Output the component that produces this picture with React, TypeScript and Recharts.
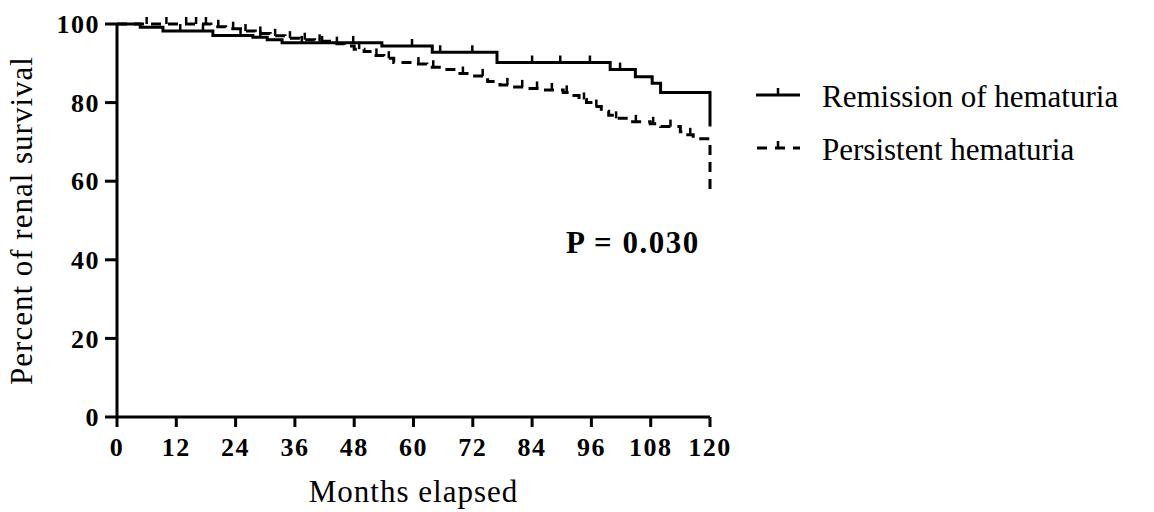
import { LineChart, Line, XAxis, YAxis, Label } from "recharts";

// Remission of hematuria (solid)
const remTimes = [0, 4.7, 9.3, 19.4, 27.5, 30.4, 33.4, 53.6, 63.8, 76.9, 99.8, 104.9, 108.3, 110, 120];
const remSurv = [100, 99.2, 98.2, 97.1, 96.6, 96, 95.2, 94.4, 92.8, 90.2, 88.4, 86.6, 84.9, 82.6, 73.9];
const remCensored = [12.8, 17.4, 25, 29, 37.4, 41.5, 47.8, 59.7, 65.4, 71.9, 84, 89.7, 95.7, 101.8];

// Persistent hematuria (dashed)
const perTimes = [
  0, 19, 22, 25, 28, 31, 34, 37, 40, 43, 46, 48, 50, 52, 54, 56, 60, 62.7, 66, 69.4, 72, 75,
  77.5, 80, 83, 86.3, 90.3, 92, 93.5, 95, 96.5, 98, 99.5, 100.8, 104, 107.9, 110, 114, 115.5,
  116.6, 120,
];
const perSurv = [
  100, 99.3, 98.8, 98.2, 97.6, 97, 96.4, 96, 95.6, 95, 94.4, 93.6, 93, 92, 91.3, 90.2, 89.8, 89,
  88.4, 87.4, 86.8, 85.4, 84.5, 84, 83.6, 83.2, 82.6, 81.8, 80.8, 80, 79, 77.8, 76.8, 76, 75.1,
  74.6, 73.9, 72.6, 71.8, 70.8, 57,
];
const perCensored = [
  6, 10, 14, 16, 18, 20.5, 23.5, 26, 29, 32, 35, 38, 41, 44.5, 49, 52.5, 55, 61, 64, 70, 74, 79,
  82, 85, 88, 91, 94.5, 97, 101, 105, 108.5, 112, 116,
];

const xTicks = [0, 12, 24, 36, 48, 60, 72, 84, 96, 108, 120];
const yTicks = [0, 20, 40, 60, 80, 100];

const serif = "'Liberation Serif', 'Times New Roman', serif";

type Pt = { t: number; s: number; c: boolean };

// step data + censor marks (a censored point sits on the current step value)
function buildSeries(times: number[], surv: number[], censored: number[]): Pt[] {
  const pts: Pt[] = times.map((t, i) => ({ t, s: surv[i], c: false }));
  censored.forEach((ct) => {
    let s = surv[0];
    times.forEach((t, i) => {
      if (t <= ct) s = surv[i];
    });
    pts.push({ t: ct, s, c: true });
  });
  return pts.sort((a, b) => a.t - b.t);
}

const remData = buildSeries(remTimes, remSurv, remCensored);
const perData = buildSeries(perTimes, perSurv, perCensored);

const CensorTick = (props: any) => {
  const { cx, cy, payload, index } = props;
  if (!payload || !payload.c) return <g key={index} />;
  return (
    <line
      key={index}
      x1={cx}
      x2={cx}
      y1={cy - 7}
      y2={cy}
      stroke="#000"
      strokeWidth={2.5}
      strokeDasharray="none"
    />
  );
};

function ChartLegend() {
  return (
    <svg width={400} height={110} style={{ position: "absolute", left: 752, top: 80 }}>
      <g>
        <line x1={4} x2={48} y1={15} y2={15} stroke="#000" strokeWidth={3} />
        <line x1={26} x2={26} y1={8} y2={15} stroke="#000" strokeWidth={2.5} />
        <text x={70} y={16} dominantBaseline="central" fontFamily={serif} fontSize={31} fill="#000">
          Remission of hematuria
        </text>
      </g>
      <g>
        <line x1={5} x2={48} y1={68} y2={68} stroke="#000" strokeWidth={3} strokeDasharray="10 8" />
        <line x1={26} x2={26} y1={61} y2={68} stroke="#000" strokeWidth={2.5} />
        <text x={70} y={69} dominantBaseline="central" fontFamily={serif} fontSize={31} fill="#000">
          Persistent hematuria
        </text>
      </g>
    </svg>
  );
}

export default function App() {
  const tickStyle = {
    fontFamily: serif,
    fontWeight: 700,
    fontSize: 26,
    fill: "#000",
    letterSpacing: 1.5,
  };
  return (
    <div style={{ position: "absolute", left: 0, top: 0, width: 1154, height: 512, background: "#fff" }}>
      <LineChart
        width={1154}
        height={512}
        margin={{ top: 24, right: 444, bottom: 7, left: 0 }}
      >
        <XAxis
          type="number"
          dataKey="t"
          domain={[0, 120]}
          ticks={xTicks}
          interval={0}
          allowDuplicatedCategory={false}
          height={88}
          tickSize={10}
          tickMargin={11}
          axisLine={{ stroke: "#000", strokeWidth: 3 }}
          tickLine={{ stroke: "#000", strokeWidth: 3 }}
          tick={tickStyle}
        >
          <Label
            value="Months elapsed"
            position="insideBottom"
            offset={3}
            style={{ fontFamily: serif, fontSize: 31, fill: "#000", letterSpacing: 1 }}
          />
        </XAxis>
        <YAxis
          type="number"
          domain={[0, 100]}
          ticks={yTicks}
          interval={0}
          width={117}
          tickSize={12}
          tickMargin={5}
          axisLine={{ stroke: "#000", strokeWidth: 3 }}
          tickLine={{ stroke: "#000", strokeWidth: 3 }}
          tick={tickStyle}
        >
          <Label
            content={({ viewBox }: any) => {
              const cx = 21;
              const cy = viewBox.y + viewBox.height / 2;
              return (
                <text
                  x={cx}
                  y={cy}
                  transform={`rotate(-90, ${cx}, ${cy})`}
                  textAnchor="middle"
                  dominantBaseline="central"
                  fontFamily={serif}
                  fontSize={31}
                  letterSpacing={1}
                  fill="#000"
                >
                  Percent of renal survival
                </text>
              );
            }}
          />
        </YAxis>
        <Line
          data={remData}
          dataKey="s"
          type="stepAfter"
          stroke="#000"
          strokeWidth={3}
          dot={CensorTick}
          activeDot={false}
          isAnimationActive={false}
          name="Remission of hematuria"
        />
        <Line
          data={perData}
          dataKey="s"
          type="stepAfter"
          stroke="#000"
          strokeWidth={3}
          strokeDasharray="10 7"
          dot={CensorTick}
          activeDot={false}
          isAnimationActive={false}
          name="Persistent hematuria"
        />
      </LineChart>
      <ChartLegend />
      <div
        style={{
          position: "absolute",
          left: 566,
          top: 225,
          fontFamily: serif,
          fontWeight: 700,
          fontSize: 31,
          letterSpacing: 1.5,
          color: "#000",
          lineHeight: "36px",
        }}
      >
        P = 0.030
      </div>
    </div>
  );
}
